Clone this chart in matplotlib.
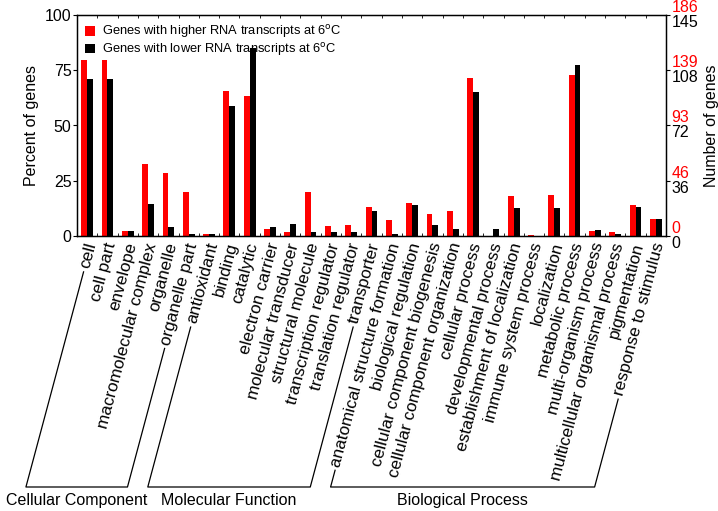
import matplotlib
matplotlib.use("Agg")
import matplotlib.pyplot as plt
import matplotlib.transforms as mtransforms
import numpy as np
from matplotlib.lines import Line2D

plt.rcParams['font.family'] = ['Liberation Sans', 'DejaVu Sans']

categories = ["cell", "cell part", "envelope", "macromolecular complex", "organelle",
              "organelle part", "antioxidant", "binding", "catalytic", "electron carrier",
              "molecular transducer", "structural molecule", "transcription regulator",
              "translation regulator", "transporter", "anatomical structure formation",
              "biological regulation", "cellular component biogenesis",
              "cellular component organization", "cellular process", "developmental process",
              "establishment of localization", "immune system process", "localization",
              "metabolic process", "multi-organism process", "multicellular organismal process",
              "pigmentation", "response to stimulus"]

higher_pct = [79.6, 79.6, 2.3, 32.4, 28.7, 19.9, 0.7, 65.8, 63.5, 3.3, 1.8, 19.9, 4.4, 5.0, 13.0,
              7.2, 14.8, 9.8, 11.5, 71.6, 0.0, 17.9, 0.6, 18.5, 72.8, 2.4, 1.8, 14.2, 7.7]
lower_pct = [71.0, 71.0, 2.3, 14.6, 4.2, 0.75, 0.7, 58.8, 84.9, 4.2, 5.6, 1.6, 1.6, 1.6, 11.2,
             0.7, 14.0, 5.0, 3.0, 65.0, 3.0, 12.5, 0.0, 12.5, 77.4, 2.9, 0.7, 13.3, 7.7]

groups = ["Cellular Component", "Molecular Function", "Biological Process"]
group_ranges = [(0, 5), (6, 14), (15, 28)]

pct_ticks = [0, 25, 50, 75, 100]
lower_counts = [0, 36, 72, 108, 145]
higher_counts = [0, 46, 93, 139, 186]

legend_labels = [r"Genes with higher RNA transcripts at 6$^{\rm o}$C",
                 r"Genes with lower RNA transcripts at 6$^{\rm o}$C"]

RED = "#ff0000"
W, H = 718, 511
fig = plt.figure(figsize=(W / 100, H / 100), dpi=100)
ax = fig.add_axes([77 / W, 1 - 236 / H, (666 - 77) / W, (236 - 15) / H])

x = np.arange(len(categories))
bw = 0.29
ax.bar(x - bw / 2, higher_pct, bw, color=RED, label=legend_labels[0])
ax.bar(x + bw / 2, lower_pct, bw, color="black", label=legend_labels[1])

ax.set_xlim(-0.5, len(categories) - 0.5)
ax.set_ylim(0, 100)
ax.set_yticks(pct_ticks)
ax.tick_params(axis='y', direction='out', length=3, labelsize=11.5, pad=1)
ax.set_ylabel("Percent of genes", fontsize=11.5, labelpad=4)

XFS = 12.3
ax.set_xticks(x)
ax.set_xticklabels(categories, rotation=75, ha='right', va='center',
                   rotation_mode='anchor', fontsize=XFS)
ax.tick_params(axis='x', which='major', length=0, pad=5)
ax.set_xticks(np.arange(len(categories) - 1) + 0.5, minor=True)
ax.tick_params(axis='x', which='minor', direction='in', length=2.5, top=True, bottom=True)
shift = mtransforms.ScaledTranslation(4 / 100, 0, fig.dpi_scale_trans)
for lbl in ax.get_xticklabels():
    lbl.set_transform(lbl.get_transform() + shift)

for s in ax.spines.values():
    s.set_linewidth(1.0)

leg = ax.legend(loc='upper left', frameon=False, fontsize=9.3, handlelength=0.75,
                handleheight=0.75, handletextpad=0.5, labelspacing=0.05,
                borderaxespad=0.3, borderpad=0.35)

# right axis: black counts (lower) and red counts (higher)
ax2 = ax.twinx()
ax2.set_ylim(0, 100)
ax2.set_yticks(pct_ticks)
ax2.set_yticklabels([str(v) for v in lower_counts], va='top', fontsize=11.5)
ax2.tick_params(axis='y', direction='out', length=3, pad=1)
ax2.set_ylabel("Number of genes", fontsize=11.5, labelpad=4)

ax3 = ax.twinx()
ax3.set_ylim(0, 100)
ax3.set_yticks(pct_ticks)
ax3.set_yticklabels([str(v) for v in higher_counts], va='bottom', fontsize=11.5, color=RED)
ax3.tick_params(axis='y', direction='out', length=3, pad=1, color=(0, 0, 0, 0))
for s in ax3.spines.values():
    s.set_visible(False)

# group brackets following label direction
fig.canvas.draw()
renderer = fig.canvas.get_renderer()
labels = ax.get_xticklabels()
ang = np.deg2rad(75)
cot = np.cos(ang) / np.sin(ang)
y_bot = 24.0
h_txt = XFS * 100 / 72 * 0.9


def end_point(lbl, gap=4.0):
    bb = lbl.get_window_extent(renderer)
    ex = bb.x0 + 0.5 * h_txt * np.sin(ang)
    ey = bb.y0 + 0.5 * h_txt * np.cos(ang)
    return ex - gap * np.cos(ang), ey - gap * np.sin(ang)


for name, (i0, i1) in zip(groups, group_ranges):
    tx0, ty0 = end_point(labels[i0])
    tx1, ty1 = end_point(labels[i1])
    bx0 = tx0 - (ty0 - y_bot) * cot
    bx1 = tx1 - (ty1 - y_bot) * cot
    xs = np.array([tx0, bx0, bx1, tx1]) / W
    ys = np.array([ty0, y_bot, y_bot, ty1]) / H
    fig.add_artist(Line2D(xs, ys, color='black', lw=0.9, transform=fig.transFigure))
    fig.text((bx0 + bx1) / 2 / W, 11 / H, name, ha='center', va='center', fontsize=11.5)

fig.savefig("out.png", dpi=100)
